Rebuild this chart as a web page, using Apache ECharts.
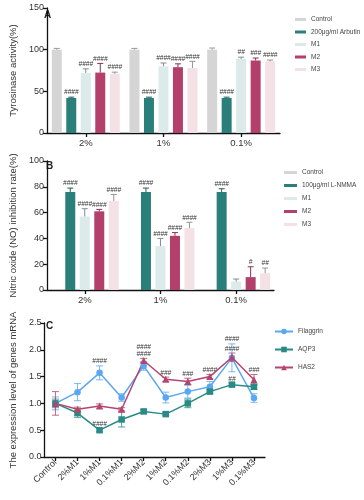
<!DOCTYPE html>
<html><head><meta charset="utf-8">
<script src="https://cdn.jsdelivr.net/npm/echarts/dist/echarts.min.js"></script>
<style>html,body{margin:0;padding:0;background:#fff}#c{width:364px;height:500px}</style>
</head><body><div id="c"></div><script>
// ---------- data ----------
const groupsAB = ['2%', '1%', '0.1%'];
const namesA = ['Control', '200μg/ml Arbutin', 'M1', 'M2', 'M3'];
const tyrMean = [[100, 100, 100], [42, 42, 42], [72, 80, 89], [72.5, 79, 87], [71, 78, 86]];
const tyrErr = [[1.5, 1.5, 2], [1, 1, 1], [5, 4, 2], [11, 4, 3], [2, 8, 1.5]];
const tyrSig = [['', '', ''], ['####', '####', '####'], ['####', '####', '##'], ['####', '####', '###'], ['####', '####', '####']];

const namesB = ['Control', '100μg/ml L-NMMA', 'M1', 'M2', 'M3'];
const noMean = [[null, null, null], [76, 76, 76], [57, 34, 6.5], [61, 42, 10], [69, 48, 13]];
const noErr = [[0, 0, 0], [3, 3, 2.5], [6, 6, 2], [1.5, 2.5, 8], [5, 4.5, 4]];
const noSig = [['', '', ''], ['####', '####', '####'], ['####', '####', ''], ['####', '####', '#'], ['####', '####', '##']];

const catsC = ['Control', '2%M1', '1%M1', '0.1%M1', '2%M2', '1%M2', '0.1%M2', '2%M3', '1%M3', '0.1%M3'];
const namesC = ['Filaggrin', 'AQP3', 'HAS2'];
const filMean = [1.0, 1.21, 1.57, 1.11, 1.70, 1.11, 1.22, 1.31, 1.85, 1.10];
const filErr = [0.12, 0.16, 0.13, 0.07, 0.08, 0.10, 0.12, 0.10, 0.26, 0.08];
const filSig = ['', '', '####', '', '', '', '', '', '####', ''];
const aqpMean = [1.0, 0.82, 0.50, 0.70, 0.85, 0.80, 1.00, 1.22, 1.35, 1.31];
const aqpErr = [0.08, 0.08, 0.03, 0.14, 0.03, 0.03, 0.08, 0.04, 0.03, 0.05];
const aqpSig = ['', '', '####', '', '', '', '', '', '##', ''];
const hasMean = [1.0, 0.89, 0.95, 0.89, 1.80, 1.45, 1.41, 1.50, 1.86, 1.44];
const hasErr = [0.22, 0.04, 0.04, 0.03, 0.04, 0.04, 0.06, 0.04, 0.08, 0.10];
const hasSig = ['', '', '', '', '####\n####', '###', '###', '####', '####', '###'];

// ---------- styles ----------
const FONT = 'Arial, "Liberation Sans", sans-serif';
const barColors = ['#d5d5d5', '#2b7f7b', '#dcebea', '#b3406b', '#f4e1e6'];
const errColors = ['#9a9a9a', '#1f5f5c', '#7f8f8e', '#8c2f52', '#9c9094'];
const lineColors = ['#5aa8f2', '#2a8a86', '#b4456e'];
const lineSymbols = ['circle', 'rect', 'triangle'];
const SLOT = 14.5;

const axisLine = { show: true, lineStyle: { color: '#111', width: 1.3 } };
const axisTick = { show: true, length: 4, lineStyle: { color: '#111', width: 1.3 } };

function yAx(grid, min, max, interval, name, gap, fmt) {
  return {
    type: 'value', gridIndex: grid, min, max, interval, name, nameLocation: 'middle', nameGap: gap,
    nameTextStyle: { fontSize: 9.5, color: '#333', fontFamily: FONT },
    axisLine, axisTick, splitLine: { show: false },
    axisLabel: { fontSize: 9, color: '#333', margin: 3, fontFamily: FONT, formatter: fmt }
  };
}

function barErrRender(sigArr, slot, color) {
  return function (params, api) {
    const m = api.value(1);
    if (m == null || isNaN(m)) return;
    const e = api.value(2);
    const ci = api.value(0);
    const base = api.coord([ci, m]);
    const top = api.coord([ci, m + e]);
    const x = base[0] + (slot - 2) * SLOT;
    const ch = [];
    if (e > 0) {
      ch.push({ type: 'line', shape: { x1: x, y1: base[1], x2: x, y2: top[1] }, style: { stroke: color, lineWidth: 1 } });
      ch.push({ type: 'line', shape: { x1: x - 3, y1: top[1], x2: x + 3, y2: top[1] }, style: { stroke: color, lineWidth: 1 } });
    }
    const s = sigArr[params.dataIndex];
    if (s) ch.push({ type: 'text', style: { x: x, y: top[1] - 1, text: s, align: 'center', verticalAlign: 'bottom', font: 'italic 6.5px ' + FONT, fill: '#333' } });
    return { type: 'group', children: ch };
  };
}

function lineErrRender(sigArr, color) {
  return function (params, api) {
    const ci = api.value(0), m = api.value(1), e = api.value(2);
    const lo = api.coord([ci, m - e]);
    const hi = api.coord([ci, m + e]);
    const x = lo[0];
    const ch = [
      { type: 'line', shape: { x1: x, y1: lo[1], x2: x, y2: hi[1] }, style: { stroke: color, lineWidth: 1, opacity: 0.8 } },
      { type: 'line', shape: { x1: x - 3.5, y1: lo[1], x2: x + 3.5, y2: lo[1] }, style: { stroke: color, lineWidth: 1, opacity: 0.8 } },
      { type: 'line', shape: { x1: x - 3.5, y1: hi[1], x2: x + 3.5, y2: hi[1] }, style: { stroke: color, lineWidth: 1, opacity: 0.8 } }
    ];
    const s = sigArr[params.dataIndex];
    if (s) ch.push({ type: 'text', style: { x: x, y: hi[1] - 1, text: s, align: 'center', verticalAlign: 'bottom', font: 'italic 6.5px ' + FONT, fill: '#333', lineHeight: 6.5 } });
    return { type: 'group', children: ch };
  };
}

const series = [];
// Panel A
namesA.forEach((n, i) => {
  series.push({ type: 'bar', name: n, xAxisIndex: 0, yAxisIndex: 0, data: tyrMean[i], barWidth: 10, barGap: '45%', itemStyle: { color: barColors[i] }, z: 2 });
});
namesA.forEach((n, i) => {
  series.push({ type: 'custom', xAxisIndex: 0, yAxisIndex: 0, z: 5, silent: true,
    data: tyrMean[i].map((v, j) => [j, v, tyrErr[i][j]]),
    renderItem: barErrRender(tyrSig[i], i, errColors[i]) });
});
// Panel B
namesB.forEach((n, i) => {
  series.push({ type: 'bar', name: n, xAxisIndex: 1, yAxisIndex: 1, data: noMean[i], barWidth: 10, barGap: '45%', itemStyle: { color: barColors[i] }, z: 2 });
});
namesB.forEach((n, i) => {
  series.push({ type: 'custom', xAxisIndex: 1, yAxisIndex: 1, z: 5, silent: true,
    data: noMean[i].map((v, j) => [j, v == null ? NaN : v, noErr[i][j]]),
    renderItem: barErrRender(noSig[i], i, errColors[i]) });
});
// Panel C
const cMeans = [filMean, aqpMean, hasMean];
const cErrs = [filErr, aqpErr, hasErr];
const cSigs = [filSig, aqpSig, hasSig];
namesC.forEach((n, i) => {
  series.push({ type: 'custom', xAxisIndex: 2, yAxisIndex: 2, z: 3, silent: true,
    data: cMeans[i].map((v, j) => [j, v, cErrs[i][j]]),
    renderItem: lineErrRender(cSigs[i], lineColors[i]) });
});
namesC.forEach((n, i) => {
  series.push({ type: 'line', name: n, xAxisIndex: 2, yAxisIndex: 2, data: cMeans[i], z: 4,
    symbol: lineSymbols[i], symbolSize: i === 2 ? 7 : 6.5, showAllSymbol: true,
    lineStyle: { color: lineColors[i], width: 1.5 }, itemStyle: { color: lineColors[i] } });
});

const catAxis = (grid, data, extra) => Object.assign({
  type: 'category', gridIndex: grid, data, boundaryGap: true,
  axisLine, axisTick: Object.assign({}, axisTick, { alignWithLabel: true }),
  axisLabel: { fontSize: 9.5, color: '#333', margin: 5, fontFamily: FONT }
}, extra || {});

const legendText = { fontSize: 6.5, color: '#444', fontFamily: FONT };

const option = {
  animation: false,
  backgroundColor: '#fff',
  textStyle: { fontFamily: FONT },
  grid: [
    { left: 37, top: 8, width: 243, height: 125 },
    { left: 36, top: 161, width: 238, height: 129 },
    { left: 40, top: 323, width: 225, height: 134 }
  ],
  xAxis: [
    catAxis(0, groupsAB),
    catAxis(1, groupsAB),
    catAxis(2, catsC, { axisLabel: { fontSize: 9, color: '#333', margin: 4, rotate: 45, fontFamily: FONT } })
  ],
  yAxis: [
    yAx(0, 0, 150, 50, 'Tyrosinase activity(%)', 25),
    yAx(1, 0, 100, 20, 'Nitric oxide (NO) inhibition rate(%)', 23),
    yAx(2, 0, 2.5, 0.5, 'The expression level of genes mRNA', 24, v => v.toFixed(1))
  ],
  legend: [
    { data: namesA, orient: 'vertical', left: 290, top: 11, icon: 'rect', itemWidth: 11, itemHeight: 3, itemGap: 5.5, textStyle: legendText, selectedMode: false },
    { data: namesB, orient: 'vertical', left: 279, top: 164, icon: 'rect', itemWidth: 13, itemHeight: 3, itemGap: 6, textStyle: legendText, selectedMode: false },
    { data: namesC, orient: 'vertical', left: 269, top: 323, itemWidth: 18, itemHeight: 7, itemGap: 11, textStyle: legendText, selectedMode: false }
  ],
  graphic: [
    { type: 'text', left: 44, top: 10, style: { text: 'A', font: 'bold 10px ' + FONT, fill: '#222' } },
    { type: 'text', left: 46, top: 161, style: { text: 'B', font: 'bold 10px ' + FONT, fill: '#222' } },
    { type: 'text', left: 46, top: 321, style: { text: 'C', font: 'bold 10px ' + FONT, fill: '#222' } }
  ],
  series
};
const chart = echarts.init(document.getElementById('c'), null, { renderer: 'canvas' });
chart.setOption(option);
</script></body></html>
